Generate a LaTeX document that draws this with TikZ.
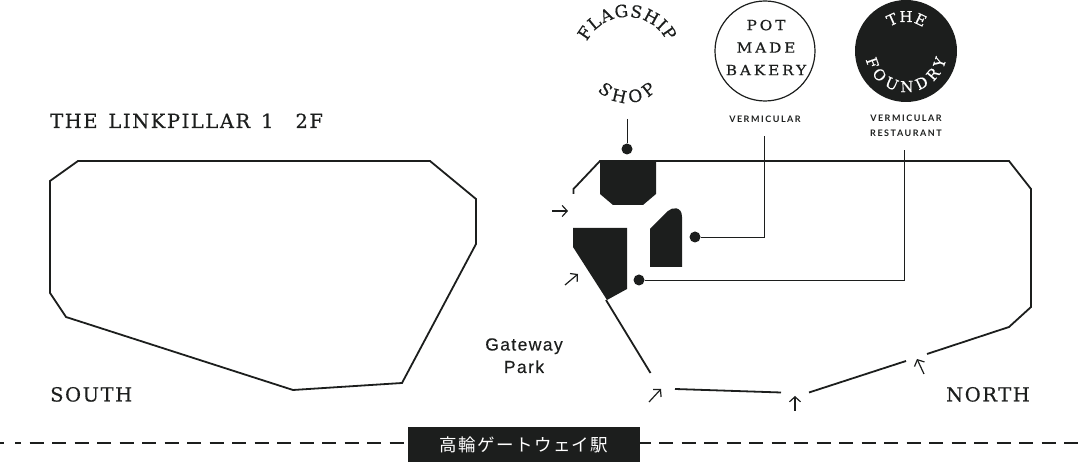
\documentclass[tikz,border=0pt]{standalone}
\usepackage{fontspec}
\usetikzlibrary{arrows.meta,decorations.text}
\newfontfamily\slabfont[LetterSpace=8,FakeBold=0.4,WordSpace=1.4]{DejaVu Serif}
\newfontfamily\badgefont[LetterSpace=20,FakeStretch=1.1,FakeBold=0.3]{DejaVu Serif}
\newfontfamily\arcfont[FakeBold=0.3]{DejaVu Serif}
\newfontfamily\tagfont[LetterSpace=17]{Lato}
\newfontfamily\parkfont[LetterSpace=8,FakeBold=0.3]{Liberation Sans}
\newfontfamily\cjkfont[LetterSpace=8]{Noto Sans CJK JP}
\definecolor{ink}{HTML}{1C1E1D}
\tikzset{
  wall/.style={draw=ink,line width=1.8pt,line join=miter},
  block/.style={fill=ink},
  leader/.style={draw=ink,line width=0.9pt},
  rail/.style={draw=ink,line width=2pt,dash pattern=on 14pt off 8.5pt},
  dot/.style={circle,fill=ink,inner sep=0pt,minimum size=11pt},
  way/.style={draw=ink,line width=1.2pt,-{Straight Barb[length=5pt,width=11pt]}},
  slab/.style={text=ink,inner sep=0pt,font=\fontsize{19.5}{22}\selectfont\slabfont},
  tag/.style={text=ink,inner sep=0pt,align=center,font=\fontsize{9}{15}\selectfont\tagfont\bfseries},
  arctext/.style={decorate,decoration={text along path,text align=fit to path,text={#1}}}
}
\begin{document}
\begin{tikzpicture}[x=1pt,y=1pt]
    \useasboundingbox (0,0) rectangle (1080,462);
    \coordinate (railL) at (0,19);
    \coordinate (railS) at (21,19);
    \coordinate (railD) at (29.5,19);
    \coordinate (railR) at (1080,19);
    \coordinate (shopTop) at (627,343);
    \coordinate (shopArc) at (627,400);
    \coordinate (bakeryTurn) at (764,225);
    \coordinate (bakeryTop) at (764,326);
    \coordinate (foundryTurn) at (904,182);
    \coordinate (foundryTop) at (904,312);
    % south wing
    \draw[wall] (78,301) -- (430,301) -- (476,263) -- (476,218) -- (402,79) -- (293,72) -- (66,145) -- (50,169) -- (50,281) -- cycle;
    % north wing
    \draw[wall] (573.5,268) -- (573.5,273) -- (600,301) -- (1009,301) -- (1031,273) -- (1031,155) -- (1009,135) -- (927,108);
    \draw[wall] (906,101) -- (809,69.5);
    \draw[wall] (781,69.5) -- (675,73);
    \draw[wall] (650.5,89) -- (606,162);
    % shops
    \fill[block] (600,301) -- (656,301) -- (656,268) -- (643,257) -- (613,257) -- (600,268) -- cycle;
    \fill[block] (573,234) -- (627,234) -- (627,173) -- (607,162) -- (573,215) -- cycle;
    \fill[block] (650,195) -- (650,233) -- (668,251) .. controls (672,255) and (682,256) .. (682,245) -- (682,195) -- cycle;
    % entrances
    \draw[way] (552,251) -- (568,251);
    \draw[way] (565,177) -- (578,188);
    \draw[way] (649,60) -- (661,73);
    \draw[way] (795,51) -- (795,66);
    \draw[way] (924,88) -- (917,103);
    % leaders
    \node[dot] (shopDot) at (627,313) {};
    \node[dot] (bakeryDot) at (695,225) {};
    \node[dot] (foundryDot) at (639,182) {};
    \draw[leader] (shopTop) -- (shopDot);
    \draw[leader] (bakeryDot) -- (bakeryTurn) -- (bakeryTop);
    \draw[leader] (foundryDot) -- (foundryTurn) -- (foundryTop);
    % labels
    \node[slab,anchor=base west] (floor) at (50,334) {THE LINKPILLAR 1\hspace{22pt}2F};
    \node[slab,anchor=base west] (south) at (50,60.5) {SOUTH};
    \node[slab,anchor=base east] (north) at (1030,60.5) {NORTH};
    \node[text=ink,inner sep=0pt,align=center,font=\fontsize{17.5}{22.5}\selectfont\parkfont,anchor=base] (park) at (524,89) {Gateway\\Park};
    % shop badges
    \path[arctext={|\fontsize{17}{17}\selectfont\arcfont\color{ink}|FLAGSHIP}] (shopArc) ++(153:45) arc (153:27:45);
    \path[arctext={|\fontsize{17}{17}\selectfont\arcfont\color{ink}|SHOP}] (shopArc) ++(224:41) arc (224:316:41);
    \node[circle,draw=ink,line width=1.2pt,minimum size=100pt,inner sep=0pt] (bakery) at (765,411) {};
    \node[text=ink,inner sep=0pt,align=center,font=\fontsize{14}{22.5}\selectfont\badgefont] (bakeryText) at (766,414.5) {POT\\MADE\\BAKERY};
    \node[tag,anchor=base] (bakeryTag) at (765,339) {VERMICULAR};
    \node[circle,fill=ink,minimum size=102pt,inner sep=0pt] (foundry) at (906,411) {};
    \path[arctext={|\fontsize{15}{15}\selectfont\arcfont\color{white}|THE}] (foundry.center) ++(124:29) arc (124:54:29);
    \path[arctext={|\fontsize{15}{15}\selectfont\arcfont\color{white}|FOUNDRY}] (foundry.center) ++(192:41) arc (192:348:41);
    \node[tag,anchor=base] (foundryTag) at (906,325.5) {VERMICULAR\\RESTAURANT};
    % station
    \node[fill=ink,text=white,minimum width=232pt,minimum height=35pt,inner sep=0pt,font=\fontsize{17.5}{20}\selectfont\cjkfont] (station) at (524,17.5) {高輪ゲートウェイ駅};
    \draw[rail,dash pattern=on 4pt off 11pt on 6pt] (railL) -- (railS);
    \draw[rail] (railD) -- (railD -| station.west);
    \draw[rail,dash phase=3.5pt] (railR -| station.east) -- (railR);
\end{tikzpicture}
\end{document}
